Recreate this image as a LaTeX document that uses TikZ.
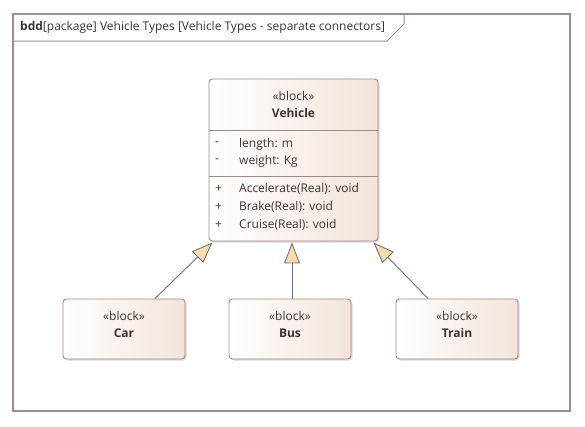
\documentclass[tikz,border=0pt]{standalone}
\usepackage{fontspec}
\setmainfont{Open Sans}
\usetikzlibrary{arrows.meta,shadows,calc}
\definecolor{frameC}{HTML}{9C8E8E}
\definecolor{borderC}{HTML}{A08A86}
\definecolor{fillR}{HTML}{F3E4D8}
\definecolor{txt}{HTML}{3A3434}
\definecolor{lineC}{HTML}{68728A}
\definecolor{tipC}{HTML}{F9DCA8}
\tikzset{
  x=1pt, y=-1pt,
  blockbox/.style={draw=borderC, line width=0.9pt, rounded corners=3.5pt,
    shading=axis, left color=white, right color=fillR,
    drop shadow={shadow xshift=1.5pt, shadow yshift=-1.5pt, opacity=0.25, fill=black!60},
    inner sep=0pt},
  lbl/.style={font=\fontsize{12}{14}\selectfont, text=txt, inner sep=0pt},
  gen/.style={draw=lineC, line width=0.9pt,
    -{Triangle[width=16pt,length=21pt,fill=tipC,line width=0.9pt]}},
}
\begin{document}
\begin{tikzpicture}
\useasboundingbox (0,0) rectangle (585,426);
% frame
\draw[frameC, line width=2pt] (13,14) rectangle (570,411);
\draw[frameC, line width=1pt] (13,41) -- (387,41) -- (404,24) -- (404,14);
\node[lbl, anchor=west] (title) at (20,27) {\textbf{bdd}[package] Vehicle Types [Vehicle Types - separate connectors]};
% Vehicle
\node[blockbox, minimum width=169pt, minimum height=162pt] (veh) at (293.5,160) {};
\draw[borderC, line width=0.9pt] (veh.west |- 0,130) -- (veh.east |- 0,130);
\draw[borderC, line width=0.9pt] (veh.west |- 0,176) -- (veh.east |- 0,176);
\node[lbl] (vst) at (293.5,96) {«block»};
\node[lbl] (vname) at (293.5,113) {\textbf{Vehicle}};
\node[lbl, anchor=west] (a1m) at (215,144) {-};
\node[lbl, anchor=west] (a1) at (239,144) {length: m};
\node[lbl, anchor=west] (a2m) at (215,161) {-};
\node[lbl, anchor=west] (a2) at (239,161) {weight: Kg};
\node[lbl, anchor=west] (o1m) at (215,189) {+};
\node[lbl, anchor=west] (o1) at (239,189) {Accelerate(Real): void};
\node[lbl, anchor=west] (o2m) at (215,207) {+};
\node[lbl, anchor=west] (o2) at (239,207) {Brake(Real): void};
\node[lbl, anchor=west] (o3m) at (215,225) {+};
\node[lbl, anchor=west] (o3) at (239,225) {Cruise(Real): void};
% children
\node[blockbox, minimum width=122pt, minimum height=60pt] (car) at (124,329) {};
\node[lbl] (cars) at (124,316) {«block»};
\node[lbl] (carn) at (124,333) {\textbf{Car}};
\node[blockbox, minimum width=122pt, minimum height=60pt] (bus) at (290,329) {};
\node[lbl] (buss) at (290,316) {«block»};
\node[lbl] (busn) at (290,333) {\textbf{Bus}};
\node[blockbox, minimum width=122pt, minimum height=60pt] (train) at (457,329) {};
\node[lbl] (trains) at (457,316) {«block»};
\node[lbl] (trainn) at (457,333) {\textbf{Train}};
% generalizations
\draw[gen] ($(car.north)+(31,0)$) -- ($(veh.south west)+(4,1)$);
\draw[gen] ($(bus.north)+(2,0)$) -- ($(veh.south)+(-1.5,1)$);
\draw[gen] ($(train.north)+(-29,0)$) -- ($(veh.south east)+(-5,1)$);
\end{tikzpicture}
\end{document}
